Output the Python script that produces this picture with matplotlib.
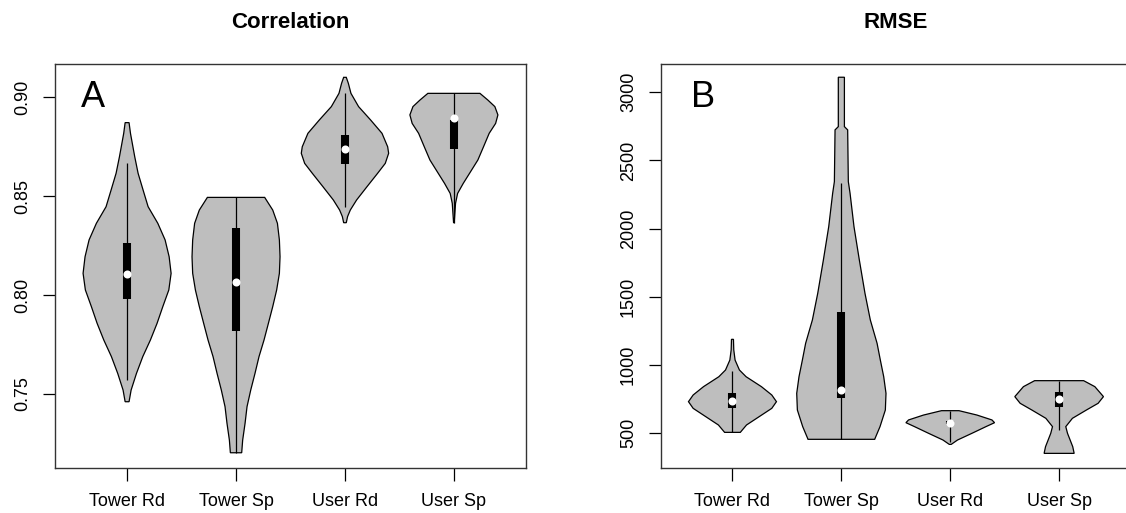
import numpy as np
import matplotlib.pyplot as plt

plt.rcParams['font.family'] = ['Liberation Sans', 'DejaVu Sans']

groups = ['Tower Rd', 'Tower Sp', 'User Rd', 'User Sp']

# density outlines: value levels and half widths (x units) for each violin
# --- Correlation ---
cor_trd_y = [0.8872, 0.8818, 0.8700, 0.8616, 0.8531, 0.8447, 0.8363, 0.8279, 0.8194,
             0.8110, 0.8026, 0.7942, 0.7857, 0.7773, 0.7689, 0.7604, 0.7520, 0.7461]
cor_trd_w = [0.018, 0.031, 0.070, 0.101, 0.147, 0.193, 0.282, 0.349, 0.386,
             0.404, 0.383, 0.328, 0.275, 0.214, 0.144, 0.086, 0.037, 0.018]
cor_tsp_y = [0.8494, 0.8430, 0.8363, 0.8279, 0.8194, 0.8110, 0.8026, 0.7942, 0.7857,
             0.7773, 0.7689, 0.7604, 0.7520, 0.7436, 0.7352, 0.7267, 0.7203]
cor_tsp_w = [0.263, 0.337, 0.380, 0.398, 0.404, 0.398, 0.373, 0.337, 0.297,
             0.257, 0.211, 0.174, 0.135, 0.101, 0.083, 0.061, 0.052]
cor_urd_y = [0.9101, 0.9071, 0.9020, 0.8953, 0.8885, 0.8818, 0.8750, 0.8717,
             0.8666, 0.8616, 0.8548, 0.8481, 0.8430, 0.8397, 0.8366]
cor_urd_w = [0.012, 0.031, 0.055, 0.125, 0.236, 0.340, 0.392, 0.401,
             0.370, 0.300, 0.202, 0.107, 0.049, 0.024, 0.012]
cor_usp_y = [0.9020, 0.8986, 0.8953, 0.8911, 0.8868, 0.8818, 0.8750, 0.8683,
             0.8616, 0.8565, 0.8514, 0.8464, 0.8366]
cor_usp_w = [0.239, 0.312, 0.376, 0.404, 0.383, 0.324, 0.272, 0.220,
             0.144, 0.086, 0.034, 0.015, 0.003]

cor_lo = [0.7571, 0.7203, 0.8447, 0.8366]
cor_q1 = [0.7979, 0.7820, 0.8663, 0.8737]
cor_med = [0.8105, 0.8065, 0.8737, 0.8895]
cor_q3 = [0.8262, 0.8338, 0.8809, 0.8885]
cor_hi = [0.8666, 0.8494, 0.9023, 0.9020]

# --- RMSE ---
rmse_trd_y = [1189, 1111, 1037, 964, 915, 842, 781, 732, 683, 622, 561, 507]
rmse_trd_w = [0.009, 0.012, 0.024, 0.064, 0.125, 0.266, 0.361, 0.404, 0.361, 0.245, 0.129, 0.072]
rmse_tsp_y = [3110, 2748, 2724, 2345, 2259, 2015, 1771, 1526, 1331, 1160,
              1037, 915, 793, 671, 549, 456]
rmse_tsp_w = [0.028, 0.028, 0.058, 0.064, 0.080, 0.116, 0.165, 0.217, 0.266, 0.328,
              0.358, 0.389, 0.410, 0.404, 0.355, 0.306]
rmse_urd_y = [666, 634, 598, 578, 549, 500, 451, 419]
rmse_urd_w = [0.080, 0.245, 0.383, 0.407, 0.328, 0.199, 0.067, 0.009]
rmse_usp_y = [886, 842, 769, 720, 671, 610, 549, 500, 451, 402, 353]
rmse_usp_w = [0.225, 0.328, 0.407, 0.358, 0.251, 0.122, 0.061, 0.077, 0.101, 0.125, 0.138]

rmse_lo = [507, 456, 439, 528]
rmse_q1 = [683, 761, 565, 690]
rmse_med = [737, 817, 578, 749]
rmse_q3 = [793, 1387, 590, 805]
rmse_hi = [957, 2333, 666, 886]


def violins(ax, shapes, lo, q1, med, q3, hi):
    for i, (yy, ww) in enumerate(shapes):
        c = i + 1
        yy = np.asarray(yy, float)
        ww = np.asarray(ww, float)
        xs = np.concatenate([c + ww, (c - ww)[::-1]])
        ys = np.concatenate([yy, yy[::-1]])
        ax.fill(xs, ys, facecolor='#BEBEBE', edgecolor='black', linewidth=0.9, zorder=2)
        ax.vlines(c, lo[i], hi[i], colors='black', linewidth=0.9, zorder=3)
        ax.vlines(c, q1[i], q3[i], colors='black', linewidth=5.8, zorder=4)
        ax.plot(c, med[i], 'o', color='white', markersize=5.8, markeredgewidth=0, zorder=5)


def style(ax, title, letter, lx, ly):
    ax.set_xlim(0.34, 4.66)
    ax.set_xticks([1, 2, 3, 4])
    ax.set_xticklabels(groups)
    ax.set_title(title, fontsize=16, fontweight='bold', pad=26)
    ax.tick_params(axis='both', direction='out', length=9, width=0.9, labelsize=13)
    ax.tick_params(axis='x', pad=9)
    ax.tick_params(axis='y', pad=8)
    plt.setp(ax.get_yticklabels(), rotation=90, va='center')
    for s in ax.spines.values():
        s.set_linewidth(1.0)
        s.set_color('#333333')
    ax.text(lx, ly, letter, fontsize=26, ha='left', va='baseline')


fig = plt.figure(figsize=(11.26, 5.13), dpi=100)
ax1 = fig.add_axes([0.04902, 0.0883, 0.41794, 0.78694])
ax2 = fig.add_axes([0.58668, 0.0883, 0.41776, 0.78694])

violins(ax1, [(cor_trd_y, cor_trd_w), (cor_tsp_y, cor_tsp_w),
              (cor_urd_y, cor_urd_w), (cor_usp_y, cor_usp_w)],
        cor_lo, cor_q1, cor_med, cor_q3, cor_hi)
ax1.set_ylim(0.71274, 0.91684)
ax1.set_yticks([0.75, 0.80, 0.85, 0.90])
ax1.set_yticklabels(['0.75', '0.80', '0.85', '0.90'])
style(ax1, 'Correlation', 'A', 0.58, 0.8951)

violins(ax2, [(rmse_trd_y, rmse_trd_w), (rmse_tsp_y, rmse_tsp_w),
              (rmse_urd_y, rmse_urd_w), (rmse_usp_y, rmse_usp_w)],
        rmse_lo, rmse_q1, rmse_med, rmse_q3, rmse_hi)
ax2.set_ylim(248, 3207)
ax2.set_yticks([500, 1000, 1500, 2000, 2500, 3000])
style(ax2, 'RMSE', 'B', 0.62, 2894)

fig.savefig('out.png', dpi=100)
